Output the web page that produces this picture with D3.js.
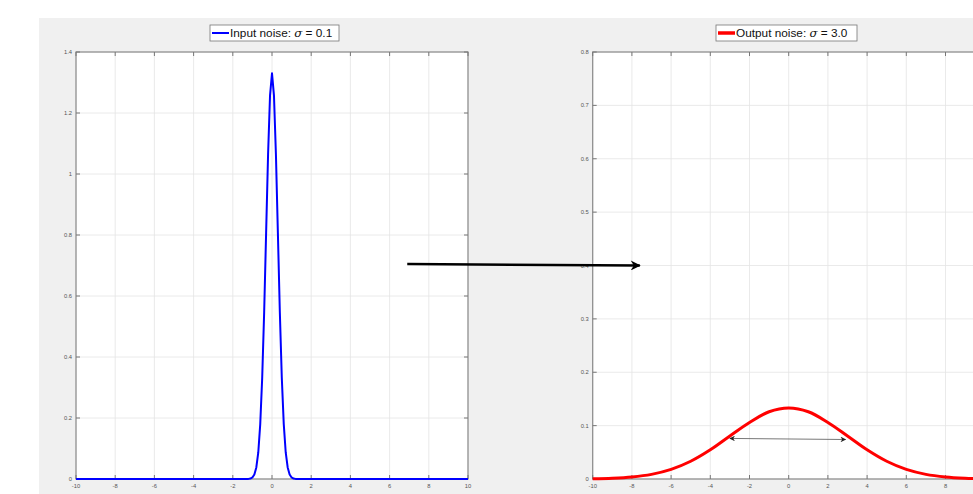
<!DOCTYPE html>
<html>
<head>
<meta charset="utf-8">
<script src="https://cdn.jsdelivr.net/npm/d3@7"></script>
<style>
  body { margin: 0; background: #fff; }
  text { font-family: "Liberation Sans", Arial, sans-serif; }
</style>
</head>
<body>
<svg id="canvas" width="973" height="494"></svg>
<script>
// input noise curve (left)
let inX = [-10, -1.3, -1.2, -1.1, -1.0, -0.9, -0.8, -0.7, -0.6, -0.5, -0.4, -0.3, -0.2, -0.1, 0, 0.1, 0.2, 0.3, 0.4, 0.5, 0.6, 0.7, 0.8, 0.9, 1.0, 1.1, 1.2, 1.3, 10]
let inY = [0, 0, 0.0004, 0.0016, 0.005, 0.015, 0.038, 0.087, 0.18, 0.332, 0.547, 0.807, 1.065, 1.258, 1.33, 1.258, 1.065, 0.807, 0.547, 0.332, 0.18, 0.087, 0.038, 0.015, 0.005, 0.0016, 0.0004, 0, 0]

// output noise curve (right)
let outX = [-10, -9, -8, -7, -6, -5, -4, -3, -2, -1, 0, 1, 2, 3, 4, 5, 6, 7, 8, 9, 10]
let outY = [0.0005, 0.0015, 0.0038, 0.0087, 0.018, 0.0332, 0.0547, 0.0807, 0.106, 0.126, 0.133, 0.126, 0.106, 0.0807, 0.0547, 0.0332, 0.018, 0.0087, 0.0038, 0.0015, 0.0005]

let xTicks = [-10, -8, -6, -4, -2, 0, 2, 4, 6, 8, 10]
let yTicksLeft = [0, 0.2, 0.4, 0.6, 0.8, 1, 1.2, 1.4]
let yTicksRight = [0, 0.1, 0.2, 0.3, 0.4, 0.5, 0.6, 0.7, 0.8]

// width arrow on the output curve (data units of right axes)
let spanArrow = [[-3, 0.076], [2.9, 0.074]]
// big arrow: starts in left axes, ends in right axes
let bigArrowStart = [6.9, 0.705]
let bigArrowEnd = [-7.6, 0.4]

let W = 973
let canvas = d3.select('#canvas')

canvas.append('rect').attr('x', 39).attr('y', 18).attr('width', W - 39).attr('height', 494 - 18).attr('fill', '#f0f0f0')

let defs = canvas.append('defs')
defs.append('marker').attr('id', 'bigHead').attr('viewBox', '0 0 10 10').attr('refX', 9).attr('refY', 5)
    .attr('markerWidth', 5.5).attr('markerHeight', 4).attr('markerUnits', 'strokeWidth').attr('orient', 'auto')
    .append('path').attr('d', 'M0,0 L10,5 L0,10 L3,5 Z').attr('fill', '#000')
defs.append('marker').attr('id', 'smallHead').attr('viewBox', '0 0 10 10').attr('refX', 9).attr('refY', 5)
    .attr('markerWidth', 9).attr('markerHeight', 7).attr('markerUnits', 'strokeWidth').attr('orient', 'auto-start-reverse')
    .append('path').attr('d', 'M0,0 L10,5 L0,10 L3,5 Z').attr('fill', '#222')

let drawAxes = (x, y, yTicks) => {
    let g = canvas.append('g')
    let [x0, x1] = x.range()
    let [y0, y1] = y.range()
    g.append('rect').attr('x', x0).attr('y', y1).attr('width', x1 - x0).attr('height', y0 - y1).attr('fill', '#fff')

    // grid
    g.selectAll('.vg').data(xTicks).enter().append('line')
        .attr('x1', d => x(d)).attr('x2', d => x(d)).attr('y1', y1).attr('y2', y0)
        .attr('stroke', '#e4e4e4').attr('stroke-width', 0.8)
    g.selectAll('.hg').data(yTicks).enter().append('line')
        .attr('x1', x0).attr('x2', x1).attr('y1', d => y(d)).attr('y2', d => y(d))
        .attr('stroke', '#e4e4e4').attr('stroke-width', 0.8)

    // box
    g.append('rect').attr('x', x0).attr('y', y1).attr('width', x1 - x0).attr('height', y0 - y1)
        .attr('fill', 'none').attr('stroke', '#8a8a8a').attr('stroke-width', 1.2)

    // inward ticks on all sides
    xTicks.forEach(t => {
        g.append('line').attr('x1', x(t)).attr('x2', x(t)).attr('y1', y0).attr('y2', y0 - 4).attr('stroke', '#777')
        g.append('line').attr('x1', x(t)).attr('x2', x(t)).attr('y1', y1).attr('y2', y1 + 4).attr('stroke', '#777')
    })
    yTicks.forEach(t => {
        g.append('line').attr('x1', x0).attr('x2', x0 + 4).attr('y1', y(t)).attr('y2', y(t)).attr('stroke', '#777')
        g.append('line').attr('x1', x1).attr('x2', x1 - 4).attr('y1', y(t)).attr('y2', y(t)).attr('stroke', '#777')
    })

    // only labels that fall inside the window
    g.selectAll('.xl').data(xTicks.filter(t => x(t) < W - 6)).enter().append('text')
        .attr('x', d => x(d)).attr('y', y0 + 9).attr('text-anchor', 'middle')
        .attr('font-size', 5.8).attr('fill', '#555').text(d => d)
    g.selectAll('.yl').data(yTicks).enter().append('text')
        .attr('x', x0 - 4).attr('y', d => y(d) + 2).attr('text-anchor', 'end')
        .attr('font-size', 5.8).attr('fill', '#555').text(d => d)
    return g
}

let xL = d3.scaleLinear().domain([-10, 10]).range([76, 468])
let yL = d3.scaleLinear().domain([0, 1.4]).range([479, 52])
let xR = d3.scaleLinear().domain([-10, 10]).range([592.7, 984.7])
let yR = d3.scaleLinear().domain([0, 0.8]).range([479, 52])

drawAxes(xL, yL, yTicksLeft)
drawAxes(xR, yR, yTicksRight)

let leftLine = d3.line().x(d => xL(d[0])).y(d => yL(d[1]))
canvas.append('path').datum(d3.zip(inX, inY)).attr('d', leftLine)
    .attr('fill', 'none').attr('stroke', '#0000ff').attr('stroke-width', 2).attr('stroke-linejoin', 'round')

let rightLine = d3.line().x(d => xR(d[0])).y(d => yR(d[1])).curve(d3.curveCatmullRom)
canvas.append('path').datum(d3.zip(outX, outY)).attr('d', rightLine)
    .attr('fill', 'none').attr('stroke', '#ff0000').attr('stroke-width', 3)

// width arrow
canvas.append('line')
    .attr('x1', xR(spanArrow[0][0])).attr('y1', yR(spanArrow[0][1]))
    .attr('x2', xR(spanArrow[1][0])).attr('y2', yR(spanArrow[1][1]))
    .attr('stroke', '#555').attr('stroke-width', 0.8)
    .attr('marker-start', 'url(#smallHead)').attr('marker-end', 'url(#smallHead)')

// big arrow between the two plots
canvas.append('line')
    .attr('x1', xL(bigArrowStart[0])).attr('y1', yL(bigArrowStart[1]))
    .attr('x2', xR(bigArrowEnd[0])).attr('y2', yR(bigArrowEnd[1]))
    .attr('stroke', '#000').attr('stroke-width', 2.5)
    .attr('marker-end', 'url(#bigHead)')

// legends
let legend = (x, y, w, color, sw, label, val) => {
    let g = canvas.append('g').attr('transform', `translate(${x},${y})`)
    g.append('rect').attr('width', w).attr('height', 16).attr('fill', '#fff').attr('stroke', '#777').attr('stroke-width', 0.8)
    g.append('line').attr('x1', 2).attr('x2', 19).attr('y1', 8).attr('y2', 8).attr('stroke', color).attr('stroke-width', sw)
    let t = g.append('text').attr('x', 20).attr('y', 12.3).attr('font-size', 11.8).attr('fill', '#111')
    t.append('tspan').text(label + ' ')
    t.append('tspan').attr('font-family', 'DejaVu Serif, serif').attr('font-style', 'italic').text('σ')
    t.append('tspan').text(' = ' + val)
}
legend(210, 25, 129, '#0000ff', 2, 'Input noise:', '0.1')
legend(716, 25, 141, '#ff0000', 3.5, 'Output noise:', '3.0')
</script>
</body>
</html>
